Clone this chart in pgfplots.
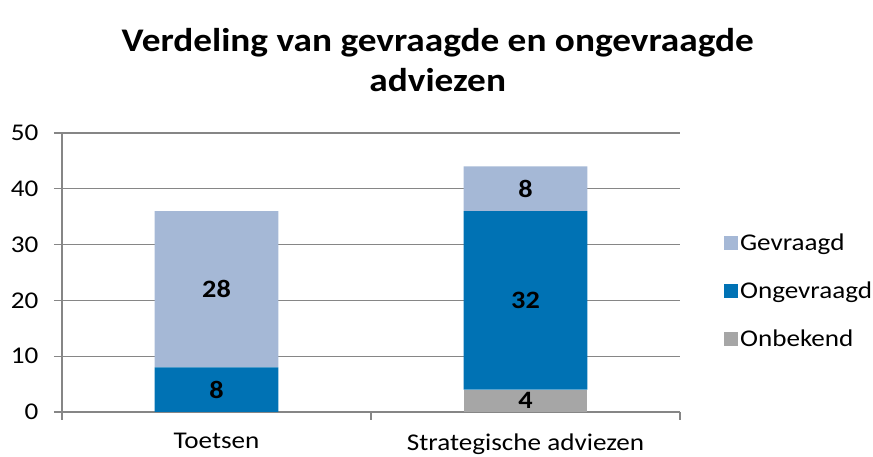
\documentclass[border=0pt]{standalone}
\usepackage{pgfplots}
\pgfplotsset{compat=1.18}
\usepackage{fontspec}
\setmainfont{Carlito}[FakeStretch=1.13]
\definecolor{gevr}{RGB}{165,184,214}
\definecolor{ongevr}{RGB}{0,114,180}
\definecolor{onbek}{RGB}{166,166,166}
\definecolor{gridc}{RGB}{134,134,134}
\begin{document}
\begin{tikzpicture}
\useasboundingbox (-62pt,-45pt) rectangle (811pt,412pt);
\begin{axis}[
  scale only axis, width=618pt, height=279pt,
  at={(0pt,0pt)}, anchor=south west,
  ybar stacked, bar width=0.4,
  xmin=-0.5, xmax=1.5, ymin=0, ymax=50,
  axis x line*=bottom, axis y line*=left,
  axis line style={gridc, line width=1.2pt},
  ytick={0,10,...,50},
  ymajorgrids, grid style={gridc, line width=1.2pt},
  tick align=outside, major tick length=8pt,
  tick style={gridc, line width=1.2pt},
  xtick={-0.5,0.5,1.5}, xticklabels={},
  extra x ticks={0,1}, extra x tick labels={Toetsen,Strategische adviezen},
  extra x tick style={major tick length=0pt, xticklabel style={yshift=-18pt}},
  /pgf/number format/assume math mode=true,
  ticklabel style={font=\fontsize{24}{28}\selectfont, black},
  yticklabel style={xshift=-12pt},
  title={Verdeling van gevraagde en ongevraagde\\adviezen},
  title style={align=center, font=\bfseries\fontsize{33}{40}\selectfont, at={(0.608,1)}, anchor=south, yshift=35pt, inner sep=0pt},
  reverse legend,
  legend cell align=left,
  legend style={at={(1.071,0.434)}, anchor=west, draw=none, fill=none, inner sep=0pt,
    font=\fontsize{24}{28}\selectfont, row sep=26pt,
    /tikz/every even column/.append style={column sep=2pt}},
  legend image code/.code={\draw[#1, draw=none] (0pt,-7pt) rectangle (14pt,7pt);},
]
\addplot[fill=onbek, draw=none] coordinates {(0,0) (1,4)};
\addplot[fill=ongevr, draw=none] coordinates {(0,8) (1,32)};
\addplot[fill=gevr, draw=none] coordinates {(0,28) (1,8)};
\legend{Onbekend,Ongevraagd,Gevraagd}
\end{axis}
\begin{axis}[
  scale only axis, width=618pt, height=279pt,
  at={(0pt,0pt)}, anchor=south west,
  xmin=-0.5, xmax=1.5, ymin=0, ymax=50,
  hide axis,
]
\addplot[draw=none, nodes near coords, point meta=explicit symbolic,
  nodes near coords style={anchor=center, font=\bfseries\fontsize{25}{30}\selectfont, text=black}]
  table[meta=lab] {
x y lab
0 4 8
0 22 28
1 2 4
1 20 32
1 40 8
};
\end{axis}
\end{tikzpicture}
\end{document}
